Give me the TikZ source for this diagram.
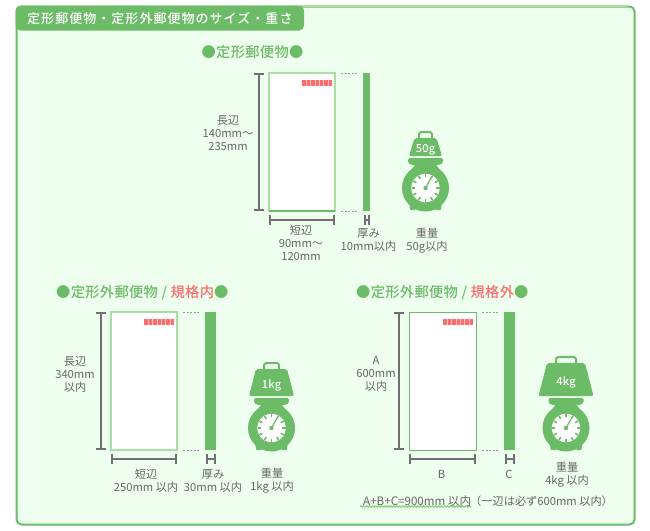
\documentclass[tikz,border=0pt]{standalone}
\usepackage{fontspec}
\setmainfont{Noto Sans CJK JP}
\newfontfamily\titlefont[LetterSpace=8]{Noto Sans CJK JP Medium}
\newfontfamily\headfont[LetterSpace=2]{Noto Sans CJK JP Medium}
\usetikzlibrary{arrows.meta,decorations.pathmorphing}
\definecolor{grn}{HTML}{6CBB66}
\definecolor{pale}{HTML}{EFFFEF}
\definecolor{lgrn}{HTML}{A9DFA5}
\definecolor{ugrn}{HTML}{8FD088}
\definecolor{gry}{HTML}{707070}
\definecolor{txt}{HTML}{666666}
\definecolor{rd}{HTML}{FF6B6B}
\tikzset{
  lbl/.style={text=txt,font=\fontsize{11.2}{13}\selectfont,inner sep=0pt,align=center},
  head/.style={text=grn,font=\headfont\fontsize{14.3}{16}\selectfont,inner sep=0pt},
  dimline/.style={draw=gry,line width=2pt,{Bar[width=10pt,line width=2pt]}-{Bar[width=10pt,line width=2pt]}},
  dots/.style={draw=gry!70,line width=.9pt,dash pattern=on 2pt off 1.6pt},
  barfill/.style={fill=grn,draw=none},
}
% envelope: #1 name, #2 left, #3 right, #4 top, #5 bottom, #6 bar left, #7 bar right, #8 border
\newcommand\mailset[8]{%
  \fill[white,draw=#8] (#2,#4) rectangle (#3,#5);
  \fill[rd] ({#3-33},{#4+7}) rectangle ({#3-3},{#4+13});
  \foreach \k in {1,2,3,4,5,6}{\draw[white!60!rd,line width=.5pt] ({#3-33+\k*4.3},{#4+7}) -- ({#3-33+\k*4.3},{#4+13});}
  \fill[barfill] (#6,#4) rectangle (#7,#5);
  \draw[dots] ({#3+6},#4) -- ({#3+22},#4);
  \draw[dots] ({#3+6},#5) -- ({#3+22},#5);
  \coordinate (#1vt) at ({#2-10},#4);
  \coordinate (#1vb) at ({#2-10},#5);
  \coordinate (#1hl) at (#2,{#5+8.5});
  \coordinate (#1hr) at (#3,{#5+8.5});
  \coordinate (#1tl) at ({#6+.5},{#5+8.5});
  \coordinate (#1tr) at ({#7-.5},{#5+8.5});
  \draw[dimline] (#1vt) -- (#1vb);
  \draw[dimline] (#1hl) -- (#1hr);
  \draw[dimline] (#1tl) -- (#1tr);
}
% scale: #1 cx, #2 foot y, #3 weight top, #4 handle half width, #5 top half width, #6 bottom half width, #7 label
\newcommand\kscale[7]{%
  \begin{scope}[shift={(#1,#2)}]
    \draw[grn,line width=2pt,fill=pale,rounded corners=2.5pt] ({-#4+1},{#3+3}) -- ({-#4+1},{#3-6}) -- ({#4-1},{#3-6}) -- ({#4-1},{#3+3});
    \fill[grn,rounded corners=2pt] ({-#5},#3) -- (#5,#3) -- (#6,-54) -- ({-#6},-54) -- cycle;
    \fill[grn,rounded corners=1.5pt] (-17.5,-52) -- (17.5,-52) -- (17.5,-47) -- (14,-45) -- (-14,-45) -- (-17.5,-47) -- cycle;
    \fill[grn] (-10,-46) -- (10,-46) -- (17,-36) -- (-17,-36) -- cycle;
    \fill[grn,rounded corners=1pt] (-16.5,-12) -- (-10,-12) -- (-10,0) -- (-15.5,0) -- cycle;
    \fill[grn,rounded corners=1pt] (16.5,-12) -- (10,-12) -- (10,0) -- (15.5,0) -- cycle;
    \fill[grn] (0,-22) circle[radius=23.5];
    \fill[white] (0,-22) circle[radius=14.2];
    \foreach \a in {0,30,...,330}{\draw[grn,line width=1.6pt] (0,-22) ++(\a:10.6) -- ++(\a:3.4);}
    \fill[grn] (0,-22) circle[radius=2.2];
    \draw[grn,line width=1.2pt] (0,-22) -- (5,-31);
    \node[text=white,font=\headfont\fontsize{11}{12}\selectfont,inner sep=0pt] (#7n) at (0,{(#3-54)/2+2.5}) {#7};
  \end{scope}
}
\begin{document}
\begin{tikzpicture}[x=1pt,y=-1pt]
\useasboundingbox (0,0) rectangle (650,530);
\fill[white] (0,0) rectangle (650,530);
\draw[grn,line width=2pt,fill=pale,rounded corners=5pt] (16.5,6.5) rectangle (634.5,524.5);
\draw[lgrn,line width=1.4pt] (300,6) -- (627,6);
\fill[grn,rounded corners=5pt] (15.5,5.5) -- (304,5.5) -- (304,30.5) -- (15.5,30.5) -- cycle;
\node[text=white,font=\titlefont\fontsize{13}{15}\selectfont,inner sep=0pt,anchor=west] (title) at (27,18.5) {定形郵便物・定形外郵便物のサイズ・重さ};
\node[head] (h1) at (252.5,52.5) {●定形郵便物●};
\node[head,anchor=west] (h2) at (56,293) {●定形外郵便物 / \textcolor{rd}{規格内}\textcolor{grn}{●}};
\node[head,anchor=west] (h3) at (356,293) {●定形外郵便物 / \textcolor{rd}{規格外}\textcolor{grn}{●}};

\mailset{a}{269}{335}{73}{211}{363}{370}{lgrn,line width=1.4pt}
\mailset{b}{111}{177}{312}{450}{205}{216}{lgrn,line width=1.4pt}
\mailset{c}{409}{476}{312}{450}{504}{515}{grn,line width=1pt}
\draw[grn,line width=1.2pt] (269,211) -- (335,211);

\kscale{425.5}{210}{-72}{7.5}{11}{16.5}{50g}
\kscale{271.5}{450}{-81}{8.5}{15.5}{22.5}{1kg}
\kscale{566}{450}{-87}{11}{19}{27.5}{4kg}

\node[lbl] (t1) at (228,133) {長辺\\140mm〜\\235mm};
\node[lbl] (t2) at (301,243) {短辺\\90mm〜\\120mm};
\node[lbl] (t4) at (368.5,240.5) {厚み\\10mm以内};
\node[lbl] (t5) at (427,240.5) {重量\\50g以内};
\node[lbl] (t6) at (75,374) {長辺\\340mm\\以内};
\node[lbl] (t7) at (146,481) {短辺\\250mm 以内};
\node[lbl] (t8) at (213,481) {厚み\\30mm 以内};
\node[lbl] (t9) at (272,481) {重量\\1kg 以内};
\node[lbl] (t10) at (376,374) {A\\600mm\\以内};
\node[lbl] (t11) at (441.5,474.5) {B};
\node[lbl] (t12) at (509,474.5) {C};
\node[lbl] (t13) at (567,475) {重量\\4kg 以内};
\coordinate (ul) at (360,506.5);
\coordinate (ur) at (471,506.5);
\draw[ugrn,line width=1.3pt,decorate,decoration={zigzag,amplitude=.6pt,segment length=3pt}] (ul) -- (ur);
\node[lbl,anchor=west,font=\fontsize{11.6}{13}\selectfont] (t14) at (363,501) {A+B+C=900mm 以内};
\node[lbl,anchor=west] (t15) at (470,501) {（一辺は必ず600mm 以内）};
\end{tikzpicture}
\end{document}
